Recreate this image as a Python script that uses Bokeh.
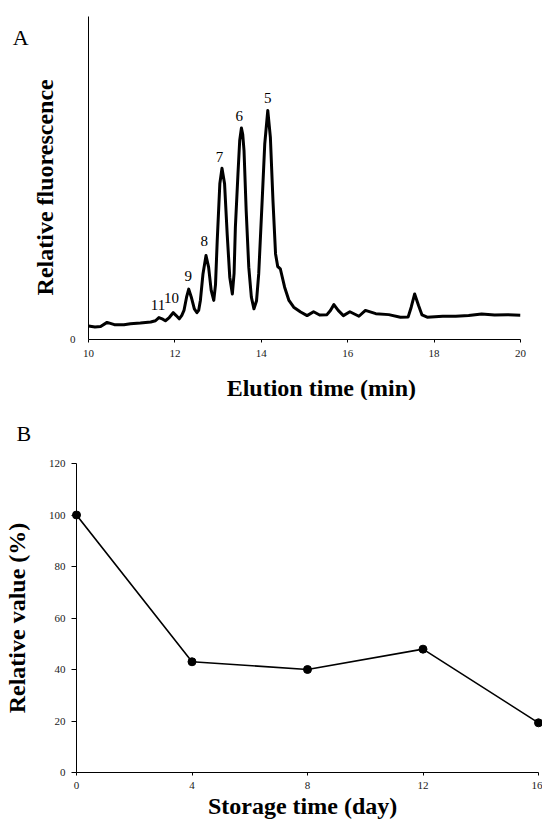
import math
from bokeh.plotting import figure
from bokeh.models import Range1d, FixedTicker
from bokeh.core.properties import value
from bokeh.embed import file_html
from bokeh.resources import INLINE

SERIF = "Liberation Serif"

# ---------------- Panel A data: chromatogram ----------------
elution_time = [10.00, 10.15, 10.28, 10.43, 10.60, 10.82, 10.97, 11.20, 11.44, 11.55,
                11.63, 11.72, 11.78, 11.87, 11.96, 12.03, 12.10, 12.16, 12.21, 12.27,
                12.32, 12.38, 12.45, 12.51, 12.55, 12.59, 12.65, 12.72, 12.78, 12.84,
                12.90, 12.94, 12.98, 13.04, 13.09, 13.15, 13.21, 13.27, 13.33, 13.37,
                13.40, 13.46, 13.50, 13.54, 13.57, 13.60, 13.65, 13.71, 13.77, 13.83,
                13.89, 13.94, 14.02, 14.08, 14.15, 14.21, 14.27, 14.33, 14.38, 14.44,
                14.54, 14.64, 14.75, 14.91, 15.06, 15.21, 15.35, 15.52, 15.60, 15.68,
                15.78, 15.90, 16.05, 16.26, 16.41, 16.65, 16.95, 17.22, 17.40, 17.47,
                17.55, 17.64, 17.72, 17.84, 18.20, 18.50, 18.80, 19.10, 19.40, 19.70,
                20.00]
fluorescence = [4.2, 3.9, 4.0, 5.3, 4.6, 4.6, 4.9, 5.1, 5.4, 5.8,
                6.8, 6.3, 5.8, 6.8, 8.3, 7.4, 6.4, 7.5, 9.0, 13.1,
                15.6, 13.1, 9.5, 8.3, 9.0, 12.1, 20.3, 26.0, 22.4, 15.2,
                12.1, 17.0, 30.7, 48.2, 53.0, 48.2, 32.7, 19.3, 14.1, 20.5,
                34.8, 51.3, 61.6, 65.5, 63.5, 58.5, 39.9, 22.4, 13.1, 9.5,
                12.0, 20.3, 43.0, 60.6, 70.9, 62.6, 43.0, 26.5, 22.6, 21.9,
                16.2, 12.1, 10.0, 8.5, 7.4, 8.6, 7.6, 7.7, 9.0, 10.8,
                9.0, 7.4, 8.6, 7.2, 9.0, 8.0, 7.7, 6.9, 7.0, 10.0,
                14.1, 10.5, 7.6, 6.9, 7.2, 7.2, 7.4, 7.9, 7.6, 7.7,
                7.5]

peak_labels = ["11", "10", "9", "8", "7", "6", "5"]
peak_label_x = [11.61, 11.92, 12.31, 12.68, 13.03, 13.49, 14.15]
peak_label_y = [10.8, 12.8, 19.8, 30.4, 56.4, 69.1, 74.7]

x_ticks_A = [10, 12, 14, 16, 18, 20]
y_ticks_A = [0]
title_A = "A"
xlabel_A = "Elution time (min)"
ylabel_A = "Relative fluorescence"

# ---------------- Panel B data ----------------
storage_day = [0, 4, 8, 12, 16]
relative_value = [100, 43.0, 40.0, 47.9, 19.3]
x_ticks_B = [0, 4, 8, 12, 16]
y_ticks_B = [0, 20, 40, 60, 80, 100, 120]
title_B = "B"
xlabel_B = "Storage time (day)"
ylabel_B = "Relative value (%)"


def style_axes(p):
    p.outline_line_color = None
    p.grid.visible = False
    for ax in (p.xaxis[0], p.yaxis[0]):
        ax.axis_line_color = "black"
        ax.axis_line_width = 1
        ax.major_tick_line_color = "black"
        ax.minor_tick_line_color = None
        ax.major_label_text_font = SERIF
        ax.major_label_text_font_size = "11px"
        ax.major_label_text_color = "#1a1a1a"
        ax.axis_label_text_font = SERIF
        ax.axis_label_text_font_style = "bold"
        ax.axis_label_text_font_size = "24px"
        ax.axis_label_text_color = "black"


def free_text(p, x, y, text, size, bold=False, angle=0.0, align="center"):
    # overlay-level text so it is not clipped to the plot frame
    p.text(x=[x], y=[y], text=[text], angle=angle, text_font=value(SERIF),
           text_font_size=size, text_font_style="bold" if bold else "normal",
           text_align=align, text_baseline="alphabetic", text_color="black",
           level="overlay")


# ---------------- Panel A ----------------
pA = figure(width=542, height=400, x_range=Range1d(10, 20), y_range=Range1d(0, 100),
            output_backend="svg", toolbar_location=None,
            min_border_left=88, min_border_right=22, min_border_top=16, min_border_bottom=61)
style_axes(pA)
pA.xaxis.ticker = FixedTicker(ticks=x_ticks_A)
pA.yaxis.ticker = FixedTicker(ticks=y_ticks_A)
pA.xaxis.major_tick_out = 3
pA.xaxis.major_tick_in = 0
pA.xaxis.major_label_standoff = 7
pA.yaxis.major_tick_out = 0
pA.yaxis.major_tick_in = 0
pA.yaxis.major_label_standoff = 13

pA.line(elution_time, fluorescence, line_color="black", line_width=3, line_join="round")
pA.text(x=peak_label_x, y=peak_label_y, text=peak_labels, text_font=value(SERIF),
        text_font_size="15px", text_align="center", text_baseline="middle", text_color="black")

free_text(pA, 8.43, 93.6, title_A, "22px")
free_text(pA, 9.0, 47.1, ylabel_A, "24px", bold=True, angle=math.pi / 2)
free_text(pA, 15.39, -14.9, xlabel_A, "24px", bold=True)

# ---------------- Panel B ----------------
pB = figure(width=542, height=423, x_range=Range1d(0, 16), y_range=Range1d(0, 120),
            output_backend="svg", toolbar_location=None,
            min_border_left=72, min_border_right=4, min_border_top=63, min_border_bottom=51)
style_axes(pB)
pB.xaxis.ticker = FixedTicker(ticks=x_ticks_B)
pB.yaxis.ticker = FixedTicker(ticks=y_ticks_B)
pB.xaxis.major_tick_out = 3
pB.xaxis.major_tick_in = 0
pB.xaxis.major_label_standoff = 6
pB.yaxis.major_tick_out = 5
pB.yaxis.major_tick_in = 0
pB.yaxis.major_label_standoff = 6
pB.yaxis.axis_label = ylabel_B
pB.yaxis.axis_label_standoff = 16

pB.line(storage_day, relative_value, line_color="black", line_width=1.6)
pB.scatter(storage_day, relative_value, size=8, fill_color="black", line_color="black",
           level="overlay")

free_text(pB, -1.82, 131.7, title_B, "22px")
free_text(pB, 7.83, -13.0, xlabel_B, "24px", bold=True)

open("out.html", "w").write(file_html([pA, pB], INLINE))
